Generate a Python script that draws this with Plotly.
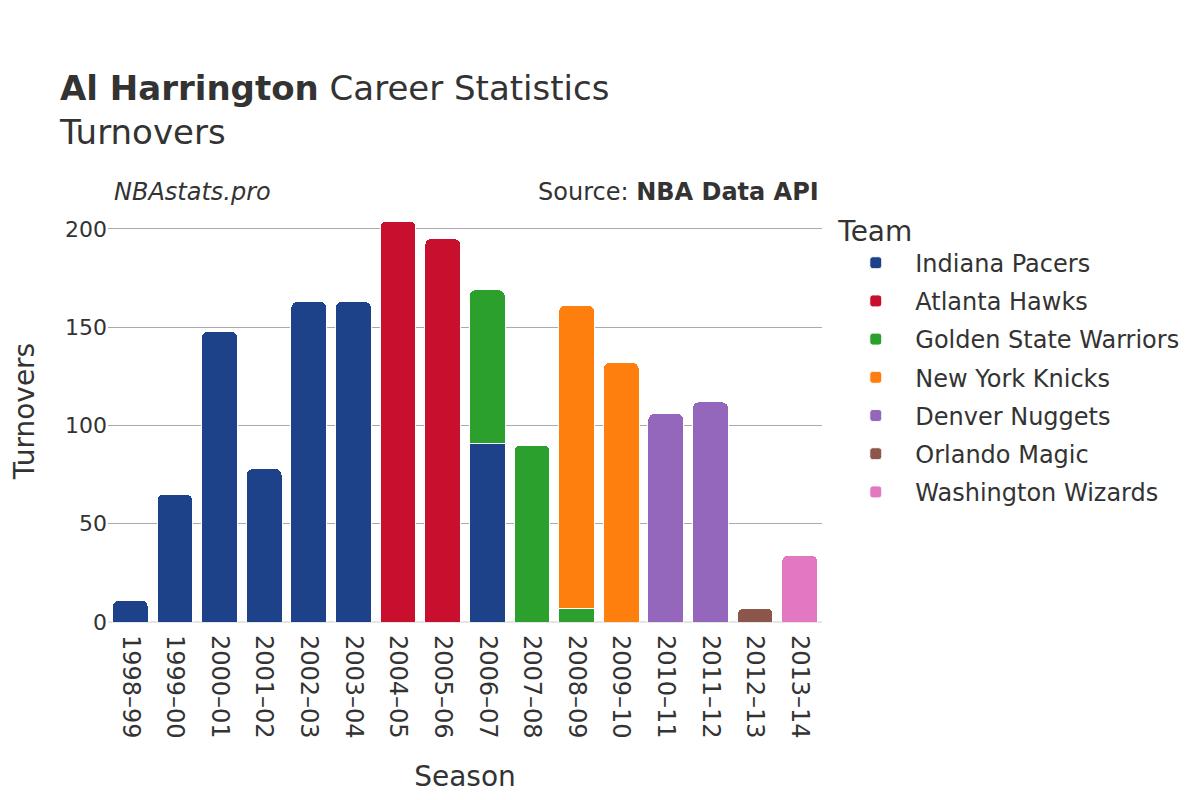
import plotly.graph_objects as go

seasons = ["1998–99", "1999–00", "2000–01", "2001–02", "2002–03", "2003–04", "2004–05",
           "2005–06", "2006–07", "2007–08", "2008–09", "2009–10", "2010–11", "2011–12",
           "2012–13", "2013–14"]

teams = ["Indiana Pacers", "Atlanta Hawks", "Golden State Warriors", "New York Knicks",
         "Denver Nuggets", "Orlando Magic", "Washington Wizards"]
colors = ["#1d428a", "#c8102e", "#2ca02c", "#ff7f0e", "#9467bd", "#8c564b", "#e377c2"]

indiana = [11, 65, 148, 78, 163, 163, None, None, 91, None, None, None, None, None, None, None]
atlanta = [None, None, None, None, None, None, 204, 195, None, None, None, None, None, None, None, None]
golden_state = [None, None, None, None, None, None, None, None, 78, 90, 7, None, None, None, None, None]
new_york = [None, None, None, None, None, None, None, None, None, None, 154, 132, None, None, None, None]
denver = [None, None, None, None, None, None, None, None, None, None, None, None, 106, 112, None, None]
orlando = [None, None, None, None, None, None, None, None, None, None, None, None, None, None, 7, None]
washington = [None, None, None, None, None, None, None, None, None, None, None, None, None, None, None, 34]

series = [indiana, atlanta, golden_state, new_york, denver, orlando, washington]

fig = go.Figure()
for name, vals, col in zip(teams, series, colors):
    fig.add_trace(go.Bar(
        x=seasons, y=vals, name=name, legendgroup=name,
        marker=dict(color=col, line=dict(color="white", width=1)),
    ))

font_family = "DejaVu Sans"
fig.update_layout(
    barmode="stack",
    barcornerradius=6,
    bargap=0.2,
    width=1200, height=800,
    paper_bgcolor="white", plot_bgcolor="white",
    font=dict(family=font_family, color="#333333", size=22),
    title=dict(
        text="<b>Al Harrington</b> Career Statistics<br>Turnovers",
        x=52 / 1200, xanchor="left", y=0.885, yanchor="top",
        font=dict(size=34, color="#333333"),
    ),
    margin=dict(l=100, r=386, t=192, b=186),
    xaxis=dict(
        title=dict(text="Season", font=dict(size=28), standoff=28),
        tickangle=90, tickfont=dict(size=24), ticklabelstandoff=12,
        showgrid=False, showline=False, automargin=True,
    ),
    yaxis=dict(
        title=dict(text="Turnovers", font=dict(size=28), standoff=24),
        tickfont=dict(size=22),
        gridcolor="#aaaaaa", gridwidth=1,
        zeroline=True, zerolinecolor="#e5e5e5", zerolinewidth=2,
        range=[0, 214.7], automargin=True,
    ),
    legend=dict(
        title=dict(text="Team", font=dict(size=28)),
        font=dict(size=24),
        traceorder="grouped",
        x=1.02, xanchor="left", y=0.99, yanchor="top",
        tracegroupgap=4, itemwidth=69,
    ),
    annotations=[
        dict(text="<i>NBAstats.pro</i>", x=0.0, xref="paper", xanchor="left",
             xshift=4, y=1.0, yref="paper", yanchor="bottom", yshift=-8,
             showarrow=False, font=dict(size=24, color="#333333")),
        dict(text="Source: <b>NBA Data API</b>", x=1.0, xref="paper", xanchor="right",
             xshift=-1, y=1.0, yref="paper", yanchor="bottom", yshift=-8,
             showarrow=False, font=dict(size=24, color="#333333")),
    ],
)

fig.write_html("out.html")
